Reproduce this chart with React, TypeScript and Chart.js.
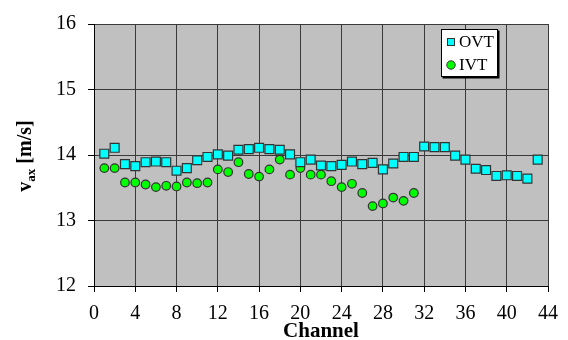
import React, { useEffect, useRef } from "react";
import { Chart, registerables } from "chart.js";

Chart.register(...registerables);

const ovtValues = [14.02, 14.11, 13.86, 13.83, 13.89, 13.9, 13.89, 13.76, 13.8, 13.92, 13.97, 14.01, 13.99, 14.08, 14.09, 14.11, 14.09, 14.08, 14.01, 13.89, 13.93, 13.84, 13.83, 13.85, 13.9, 13.86, 13.88, 13.78, 13.87, 13.97, 13.97, 14.13, 14.12, 14.12, 13.99, 13.93, 13.79, 13.77, 13.68, 13.69, 13.68, 13.64, 13.93];
const ivtValues = [13.8, 13.8, 13.58, 13.58, 13.55, 13.51, 13.53, 13.52, 13.58, 13.57, 13.58, 13.78, 13.74, 13.89, 13.71, 13.67, 13.78, 13.93, 13.7, 13.8, 13.7, 13.7, 13.6, 13.51, 13.56, 13.42, 13.22, 13.26, 13.35, 13.3, 13.42];
const seriesNames = ["OVT", "IVT"];
const xTitle = "Channel";
const yTitleMain = "v";
const yTitleSub = "ax";
const yTitleRest = " [m/s]";

const FONT = "'Liberation Serif', 'Times New Roman', serif";

const toPoints = (vals: number[]) => vals.map((v, i) => ({ x: i + 1, y: v }));

const overlayPlugin = {
  id: "overlay",
  afterDraw(chart: any) {
    const ctx = chart.ctx as CanvasRenderingContext2D;
    const area = chart.chartArea;
    // X axis title
    ctx.save();
    ctx.fillStyle = "#000";
    ctx.font = `bold 21px ${FONT}`;
    ctx.textAlign = "center";
    ctx.textBaseline = "alphabetic";
    ctx.fillText(xTitle, (area.left + area.right) / 2, 337);
    ctx.restore();

    // Y axis title with subscript
    ctx.save();
    ctx.fillStyle = "#000";
    const cx = 25;
    const cy = 156;
    ctx.translate(cx, cy);
    ctx.rotate(-Math.PI / 2);
    const big = `bold 20px ${FONT}`;
    const small = `bold 13px ${FONT}`;
    ctx.font = big;
    const w1 = ctx.measureText(yTitleMain).width;
    const w3 = ctx.measureText(yTitleRest).width;
    ctx.font = small;
    const w2 = ctx.measureText(yTitleSub).width;
    const total = w1 + w2 + w3;
    let x = -total / 2;
    ctx.textBaseline = "alphabetic";
    ctx.textAlign = "left";
    ctx.font = big;
    ctx.fillText(yTitleMain, x, 6);
    x += w1;
    ctx.font = small;
    ctx.fillText(yTitleSub, x, 10);
    x += w2;
    ctx.font = big;
    ctx.fillText(yTitleRest, x, 6);
    ctx.restore();

    // Legend box
    ctx.save();
    const lx = 441, ly = 29, lw = 57, lh = 48;
    ctx.fillStyle = "#000";
    ctx.fillRect(lx + 1.5, ly + 1.5, lw, lh);
    ctx.fillStyle = "#fff";
    ctx.fillRect(lx, ly, lw, lh);
    ctx.strokeStyle = "#000";
    ctx.lineWidth = 1;
    ctx.strokeRect(lx + 0.5, ly + 0.5, lw - 1, lh - 1);
    const ds = chart.data.datasets;
    const rows = [42, 65];
    ctx.font = `17px ${FONT}`;
    ctx.textBaseline = "middle";
    ctx.textAlign = "left";
    rows.forEach((ry, i) => {
      const d = ds[i];
      ctx.fillStyle = d.backgroundColor;
      ctx.strokeStyle = d.borderColor;
      ctx.lineWidth = 1;
      if (i === 0) {
        ctx.fillRect(447, ry - 4, 8, 8);
        ctx.strokeRect(447.5, ry - 3.5, 7, 7);
      } else {
        ctx.beginPath();
        ctx.arc(451, ry, 4.2, 0, Math.PI * 2);
        ctx.fill();
        ctx.stroke();
      }
      ctx.fillStyle = "#000";
      ctx.fillText(d.label, 459, ry + 1);
    });
    ctx.restore();
  },
};

const bgPlugin = {
  id: "plotBg",
  beforeDraw(chart: any) {
    const ctx = chart.ctx;
    const a = chart.chartArea;
    ctx.save();
    ctx.fillStyle = "#c0c0c0";
    ctx.fillRect(a.left, a.top, a.right - a.left, a.bottom - a.top);
    ctx.restore();
  },
};

export default function App() {
  const ref = useRef<HTMLCanvasElement | null>(null);
  useEffect(() => {
    if (!ref.current) return;
    const chart = new Chart(ref.current, {
      type: "scatter",
      data: {
        datasets: [
          {
            label: seriesNames[0],
            data: toPoints(ovtValues),
            pointStyle: "rect",
            pointRadius: 6.3,
            backgroundColor: "#00ffff",
            borderColor: "#333333",
            borderWidth: 1.2,
          },
          {
            label: seriesNames[1],
            data: toPoints(ivtValues),
            pointStyle: "circle",
            pointRadius: 4.3,
            backgroundColor: "#00ff00",
            borderColor: "#333333",
            borderWidth: 1.2,
          },
        ],
      },
      options: {
        responsive: false,
        animation: false,
        layout: { padding: { top: 20, right: 20, left: 0, bottom: 0 } },
        plugins: { legend: { display: false }, tooltip: { enabled: false } },
        scales: {
          x: {
            type: "linear",
            min: 0,
            max: 44,
            afterFit: (s: any) => { s.height = 54; },
            ticks: { stepSize: 4, color: "#000", font: { family: FONT, size: 20 }, padding: 10, maxRotation: 0 },
            grid: { color: "#3a3a3a", lineWidth: 1, tickLength: 6, tickColor: "#000" },
            border: { color: "#000", width: 1 },
          },
          y: {
            type: "linear",
            min: 12,
            max: 16,
            afterFit: (s: any) => { s.width = 94; },
            ticks: { stepSize: 1, color: "#000", font: { family: FONT, size: 20 }, padding: 12 },
            grid: { color: "#3a3a3a", lineWidth: 1, tickLength: 6, tickColor: "#000" },
            border: { color: "#000", width: 1 },
          },
        },
      },
      plugins: [bgPlugin, overlayPlugin],
    } as any);
    return () => chart.destroy();
  }, []);
  return (
    <div style={{ position: "fixed", left: 0, top: 0, width: 568, height: 340, background: "#fff" }}>
      <canvas ref={ref} width={568} height={340} style={{ display: "block" }} />
    </div>
  );
}
